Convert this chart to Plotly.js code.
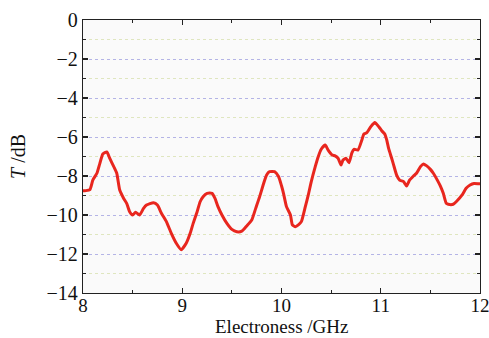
<!DOCTYPE html>
<html>
<head>
<meta charset="utf-8">
<script src="https://cdn.plot.ly/plotly-3.0.1.min.js"></script>
<style>html,body{margin:0;padding:0;background:#fff;}#chart{width:489px;height:338px;}</style>
</head>
<body>
<div id="chart"></div>
<script>
const freqGHz = [8.00,8.03,8.07,8.10,8.14,8.17,8.20,8.24,8.27,8.31,8.34,8.37,8.41,8.44,8.47,8.50,8.53,8.57,8.61,8.64,8.71,8.75,8.79,8.84,8.89,8.94,8.99,9.04,9.08,9.11,9.15,9.18,9.21,9.25,9.30,9.33,9.36,9.40,9.45,9.50,9.55,9.60,9.65,9.70,9.74,9.78,9.82,9.85,9.88,9.93,9.97,10.00,10.02,10.05,10.09,10.11,10.14,10.17,10.20,10.24,10.27,10.30,10.34,10.37,10.40,10.44,10.47,10.51,10.54,10.57,10.60,10.62,10.65,10.68,10.71,10.73,10.77,10.81,10.83,10.86,10.90,10.94,10.98,11.01,11.04,11.06,11.08,11.11,11.13,11.16,11.19,11.23,11.26,11.29,11.33,11.36,11.40,11.43,11.46,11.50,11.53,11.57,11.60,11.63,11.66,11.68,11.73,11.76,11.82,11.86,11.90,11.94,11.99,12.00];
const transmissionDB = [-8.75,-8.75,-8.7,-8.2,-7.86,-7.35,-6.87,-6.77,-7.1,-7.52,-7.86,-8.72,-9.15,-9.4,-9.83,-10.0,-9.86,-10.0,-9.66,-9.49,-9.37,-9.49,-9.91,-10.34,-10.94,-11.45,-11.78,-11.45,-10.94,-10.43,-9.83,-9.32,-9.06,-8.89,-8.89,-9.15,-9.57,-10.0,-10.43,-10.74,-10.86,-10.83,-10.56,-10.26,-9.66,-9.06,-8.38,-7.95,-7.78,-7.78,-8.03,-8.5,-8.89,-9.57,-10.0,-10.51,-10.6,-10.51,-10.34,-9.57,-8.97,-8.29,-7.52,-7.01,-6.63,-6.41,-6.67,-6.92,-6.97,-7.09,-7.44,-7.18,-7.09,-7.32,-6.8,-6.63,-6.67,-6.15,-5.85,-5.78,-5.47,-5.26,-5.47,-5.68,-5.85,-6.15,-6.6,-7.09,-7.44,-7.95,-8.21,-8.29,-8.51,-8.21,-8.0,-7.86,-7.52,-7.38,-7.47,-7.66,-7.86,-8.21,-8.51,-8.89,-9.4,-9.45,-9.45,-9.32,-8.97,-8.63,-8.46,-8.38,-8.4,-8.4];
const xTicks = [8,9,10,11,12];
const yTicks = [0,-2,-4,-6,-8,-10,-12,-14];
const xTitle = 'Electroness /GHz';
const yTitle = '<i>T</i> /dB';

const font = {family: 'Liberation Serif', size: 20, color: '#111'};
const xFont = {family: 'Liberation Serif', size: 19, color: '#111'};

Plotly.newPlot('chart', [{
  x: freqGHz, y: transmissionDB, type: 'scatter', mode: 'lines',
  line: {color: '#e8261e', width: 3, shape: 'spline', smoothing: 0.5},
  hoverinfo: 'skip'
}], {
  width: 489, height: 338,
  margin: {l: 83, r: 9, t: 20, b: 45},
  paper_bgcolor: '#ffffff',
  plot_bgcolor: '#fafafa',
  showlegend: false,
  font: font,
  xaxis: {
    range: [8, 12], tickvals: xTicks, ticktext: xTicks.map(String),
    showgrid: false, zeroline: false,
    showline: true, linecolor: '#222', linewidth: 1.2, mirror: 'allticks',
    ticks: 'inside', ticklen: 5, tickcolor: '#222', tickwidth: 1.2,
    minor: {dtick: 0.5, ticks: 'inside', ticklen: 3, tickcolor: '#222', showgrid: false},
    tickfont: xFont, ticklabeloverflow: 'allow', ticklabelstandoff: -5
  },
  yaxis: {
    range: [-14, 0], tickvals: yTicks, ticktext: yTicks.map(v => v === 0 ? '0' : '\u2212' + Math.abs(v)),
    showgrid: true, gridcolor: '#b4b4e6', griddash: 'dot', gridwidth: 1,
    zeroline: false,
    showline: true, linecolor: '#222', linewidth: 1.2, mirror: 'allticks',
    ticks: 'inside', ticklen: 5, tickcolor: '#222', tickwidth: 1.2,
    minor: {tickvals: [-1,-3,-5,-7,-9,-11,-13], ticks: 'inside', ticklen: 3, tickcolor: '#222',
            showgrid: true, gridcolor: '#dfe6bf', griddash: 'dot', gridwidth: 1},
    tickfont: font, ticklabeloverflow: 'allow'
  },
  annotations: [
    {text: xTitle, xref: 'paper', yref: 'paper', x: 0.5, y: -0.1648, xanchor: 'center', yanchor: 'bottom',
     showarrow: false, font: xFont, borderpad: 0},
    {text: yTitle, xref: 'paper', yref: 'paper', x: -0.165, y: 0.5, xanchor: 'center', yanchor: 'middle',
     textangle: -90, showarrow: false, font: font}
  ]
}, {staticPlot: true, displayModeBar: false});
</script>
</body>
</html>
